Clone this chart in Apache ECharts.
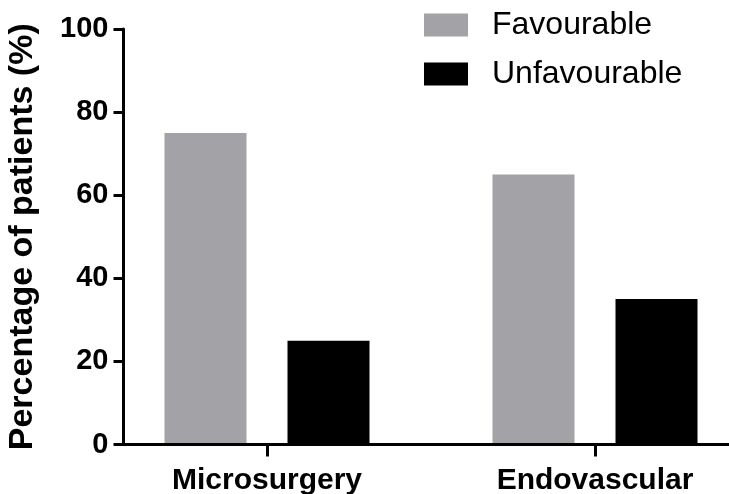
<!DOCTYPE html>
<html>
<head>
<meta charset="utf-8">
<script src="https://cdn.jsdelivr.net/npm/echarts@6/dist/echarts.min.js"></script>
<style>
html,body{margin:0;padding:0;background:#fff;}
#chart{width:729px;height:494px;}
</style>
</head>
<body>
<div id="chart"></div>
<script>
const categories = ['Microsurgery', 'Endovascular'];
const seriesNames = ['Favourable', 'Unfavourable'];
const favourable = [75, 65];
const unfavourable = [25, 35];
const yMin = 0, yMax = 100, yStep = 20;
const yTitle = 'Percentage of patients (%)';

const FONT = '"Liberation Sans", Arial, Helvetica, sans-serif';
const GRAY = '#a3a3a7';

const chart = echarts.init(document.getElementById('chart'), null, {renderer: 'canvas'});
chart.setOption({
  animation: false,
  backgroundColor: '#ffffff',
  textStyle: {fontFamily: FONT},
  legend: {
    data: seriesNames,
    orient: 'vertical',
    left: 419,
    top: 4,
    itemWidth: 44,
    itemHeight: 23,
    itemGap: 17,
    icon: 'rect',
    textStyle: {fontSize: 32, color: '#000', fontFamily: FONT, padding: [0, 0, 0, 19]}
  },
  grid: [
    {left: 103, width: 656, top: 29, bottom: 49.5, outerBoundsMode: 'none', containLabel: false},
    {left: 123.5, right: 0, top: 29, bottom: 49.5, outerBoundsMode: 'none', containLabel: false}
  ],
  xAxis: [
    {
      type: 'category', gridIndex: 0, data: categories,
      axisLine: {show: false},
      axisTick: {show: true, alignWithLabel: true, length: 12, lineStyle: {color: '#000', width: 3}},
      axisLabel: {fontSize: 30, fontWeight: 'bold', color: '#000', margin: 21, fontFamily: FONT},
      splitLine: {show: false}
    },
    {
      type: 'value', gridIndex: 1, min: 0, max: 1, z: 5,
      axisLine: {show: true, lineStyle: {color: '#000', width: 3}},
      axisTick: {show: false}, axisLabel: {show: false}, splitLine: {show: false}
    }
  ],
  yAxis: [
    {
      type: 'value', gridIndex: 0, min: yMin, max: yMax, interval: yStep, show: false,
      splitLine: {show: false}
    },
    {
      type: 'value', gridIndex: 1, min: yMin, max: yMax, interval: yStep, z: 5,
      name: yTitle, nameLocation: 'middle', nameGap: 84,
      nameTextStyle: {fontSize: 34, fontWeight: 'bold', color: '#000', fontFamily: FONT},
      axisLine: {show: true, lineStyle: {color: '#000', width: 3}},
      axisTick: {show: true, length: 10, lineStyle: {color: '#000', width: 3}},
      axisLabel: {fontSize: 29, fontWeight: 'bold', color: '#000', margin: 15, fontFamily: FONT},
      splitLine: {show: false}
    }
  ],
  series: [
    {
      name: seriesNames[0], type: 'bar', xAxisIndex: 0, yAxisIndex: 0,
      data: favourable, barWidth: 82, barGap: '50%',
      itemStyle: {color: GRAY}
    },
    {
      name: seriesNames[1], type: 'bar', xAxisIndex: 0, yAxisIndex: 0,
      data: unfavourable, barWidth: 82, barGap: '50%',
      itemStyle: {color: '#000000'}
    }
  ]
});
</script>
</body>
</html>
